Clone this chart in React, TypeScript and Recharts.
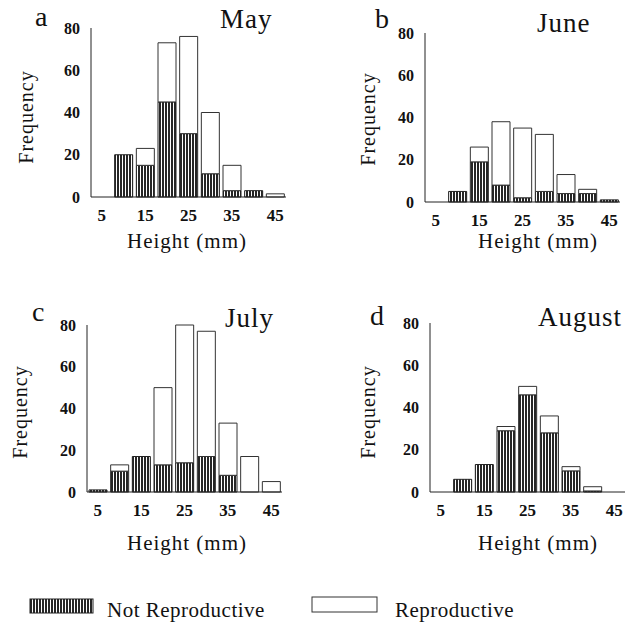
import { Bar, BarChart, XAxis, YAxis } from "recharts";

const FONT = '"Liberation Serif", "Times New Roman", serif';

const heights = [5, 10, 15, 20, 25, 30, 35, 40, 45];
const yTicks = [0, 20, 40, 60, 80];

const mayNot = [0, 20, 15, 45, 30, 11, 3, 3, 0];
const mayRep = [0, 0, 8, 28, 46, 29, 12, 0, 1.5];
const juneNot = [0, 5, 19, 8, 2, 5, 4, 4, 1];
const juneRep = [0, 0, 7, 30, 33, 27, 9, 2, 0];
const julyNot = [1, 10, 17, 13, 14, 17, 8, 0, 0];
const julyRep = [0, 3, 0, 37, 66, 60, 25, 17, 5];
const augNot = [0, 6, 13, 29, 46, 28, 10, 0.5, 0];
const augRep = [0, 0, 0, 2, 4, 8, 2, 2, 0];

type PanelProps = {
  id: string;
  notRepro: number[];
  repro: number[];
  x0: number;
  y0: number;
  axisWidth: number;
  marginTop: number;
  plotH: number;
};

const PLOT_W = 195;
const X_AXIS_H = 34;

function HatchDefs({ id }: { id: string }) {
  return (
    <defs>
      <pattern id={id} width={3} height={4} patternUnits="userSpaceOnUse">
        <rect x={0} y={0} width={3} height={4} fill="#fff" />
        <rect x={0} y={0} width={2} height={4} fill="#262626" />
      </pattern>
    </defs>
  );
}

function Panel({ id, notRepro, repro, x0, y0, axisWidth, marginTop, plotH }: PanelProps) {
  const rows = heights.map((h, i) => ({ height: h, nr: notRepro[i], r: repro[i] }));
  const width = axisWidth + PLOT_W + 6;
  const height = marginTop + plotH + X_AXIS_H;
  return (
    <div style={{ position: "absolute", left: x0, top: y0 }}>
      <BarChart width={width} height={height} data={rows} margin={{ top: marginTop, right: 6, left: 0, bottom: 0 }}>
        <HatchDefs id={id} />
        <XAxis
          dataKey="height"
          interval={1}
          height={X_AXIS_H}
          axisLine={{ stroke: "#222" }}
          tickLine={false}
          tickSize={0}
          tickMargin={12}
          tick={{ fill: "#111", fontSize: 17, fontWeight: "bold", fontFamily: FONT }}
        />
        <YAxis
          domain={[0, 80]}
          ticks={yTicks}
          width={axisWidth}
          axisLine={{ stroke: "#222" }}
          tickLine={false}
          tickSize={0}
          tickMargin={11}
          tick={{ fill: "#111", fontSize: 16, fontWeight: "bold", fontFamily: FONT }}
        />
        <Bar dataKey="nr" stackId="s" barSize={18} fill={`url(#${id})`} stroke="#222" strokeWidth={1} isAnimationActive={false} />
        <Bar dataKey="r" stackId="s" barSize={18} fill="#fff" stroke="#333" strokeWidth={1} isAnimationActive={false} />
      </BarChart>
    </div>
  );
}

const textStyle = { fontFamily: FONT, fill: "#111" };

function Labels() {
  const freq = [
    [26, 117],
    [368, 119],
    [20, 412],
    [368, 412],
  ];
  const heightLbl = [
    [187, 248],
    [538, 248],
    [187, 550],
    [538, 550],
  ];
  return (
    <svg width={631} height={635} style={{ position: "absolute", left: 0, top: 0, pointerEvents: "none" }}>
      <HatchDefs id="legendHatch" />
      <text x={35} y={26} fontSize={28} style={textStyle}>a</text>
      <text x={220} y={28} fontSize={27} letterSpacing={1} style={textStyle}>May</text>
      <text x={375} y={28} fontSize={28} style={textStyle}>b</text>
      <text x={537} y={32} fontSize={27} letterSpacing={1} style={textStyle}>June</text>
      <text x={32} y={321} fontSize={28} style={textStyle}>c</text>
      <text x={225} y={327} fontSize={27} letterSpacing={1} style={textStyle}>July</text>
      <text x={370} y={325} fontSize={28} style={textStyle}>d</text>
      <text x={538} y={326} fontSize={27} letterSpacing={1} style={textStyle}>August</text>
      {freq.map(([x, y], i) => (
        <text
          key={"f" + i}
          x={x}
          y={y}
          fontSize={20}
          letterSpacing={1}
          textAnchor="middle"
          dominantBaseline="central"
          transform={`rotate(-90 ${x} ${y})`}
          style={textStyle}
        >
          Frequency
        </text>
      ))}
      {heightLbl.map(([x, y], i) => (
        <text key={"h" + i} x={x} y={y} fontSize={21} letterSpacing={1} textAnchor="middle" style={textStyle}>
          Height (mm)
        </text>
      ))}
      <rect x={30} y={599} width={63} height={14} fill="url(#legendHatch)" stroke="#222" />
      <text x={107} y={617} fontSize={21} letterSpacing={0.5} style={textStyle}>Not Reproductive</text>
      <rect x={312} y={597} width={65} height={15} fill="#fff" stroke="#333" />
      <text x={395} y={617} fontSize={21} letterSpacing={0.5} style={textStyle}>Reproductive</text>
    </svg>
  );
}

export default function App() {
  return (
    <div style={{ position: "absolute", left: 0, top: 0, width: 631, height: 635, background: "#fff" }}>
      <Panel id="hatchA" notRepro={mayNot} repro={mayRep} x0={0} y0={0} axisWidth={91} marginTop={28} plotH={169} />
      <Panel id="hatchB" notRepro={juneNot} repro={juneRep} x0={315} y0={0} axisWidth={110} marginTop={33} plotH={169} />
      <Panel id="hatchC" notRepro={julyNot} repro={julyRep} x0={0} y0={300} axisWidth={87} marginTop={25} plotH={167} />
      <Panel id="hatchD" notRepro={augNot} repro={augRep} x0={315} y0={300} axisWidth={115} marginTop={23} plotH={169} />
      <Labels />
    </div>
  );
}
